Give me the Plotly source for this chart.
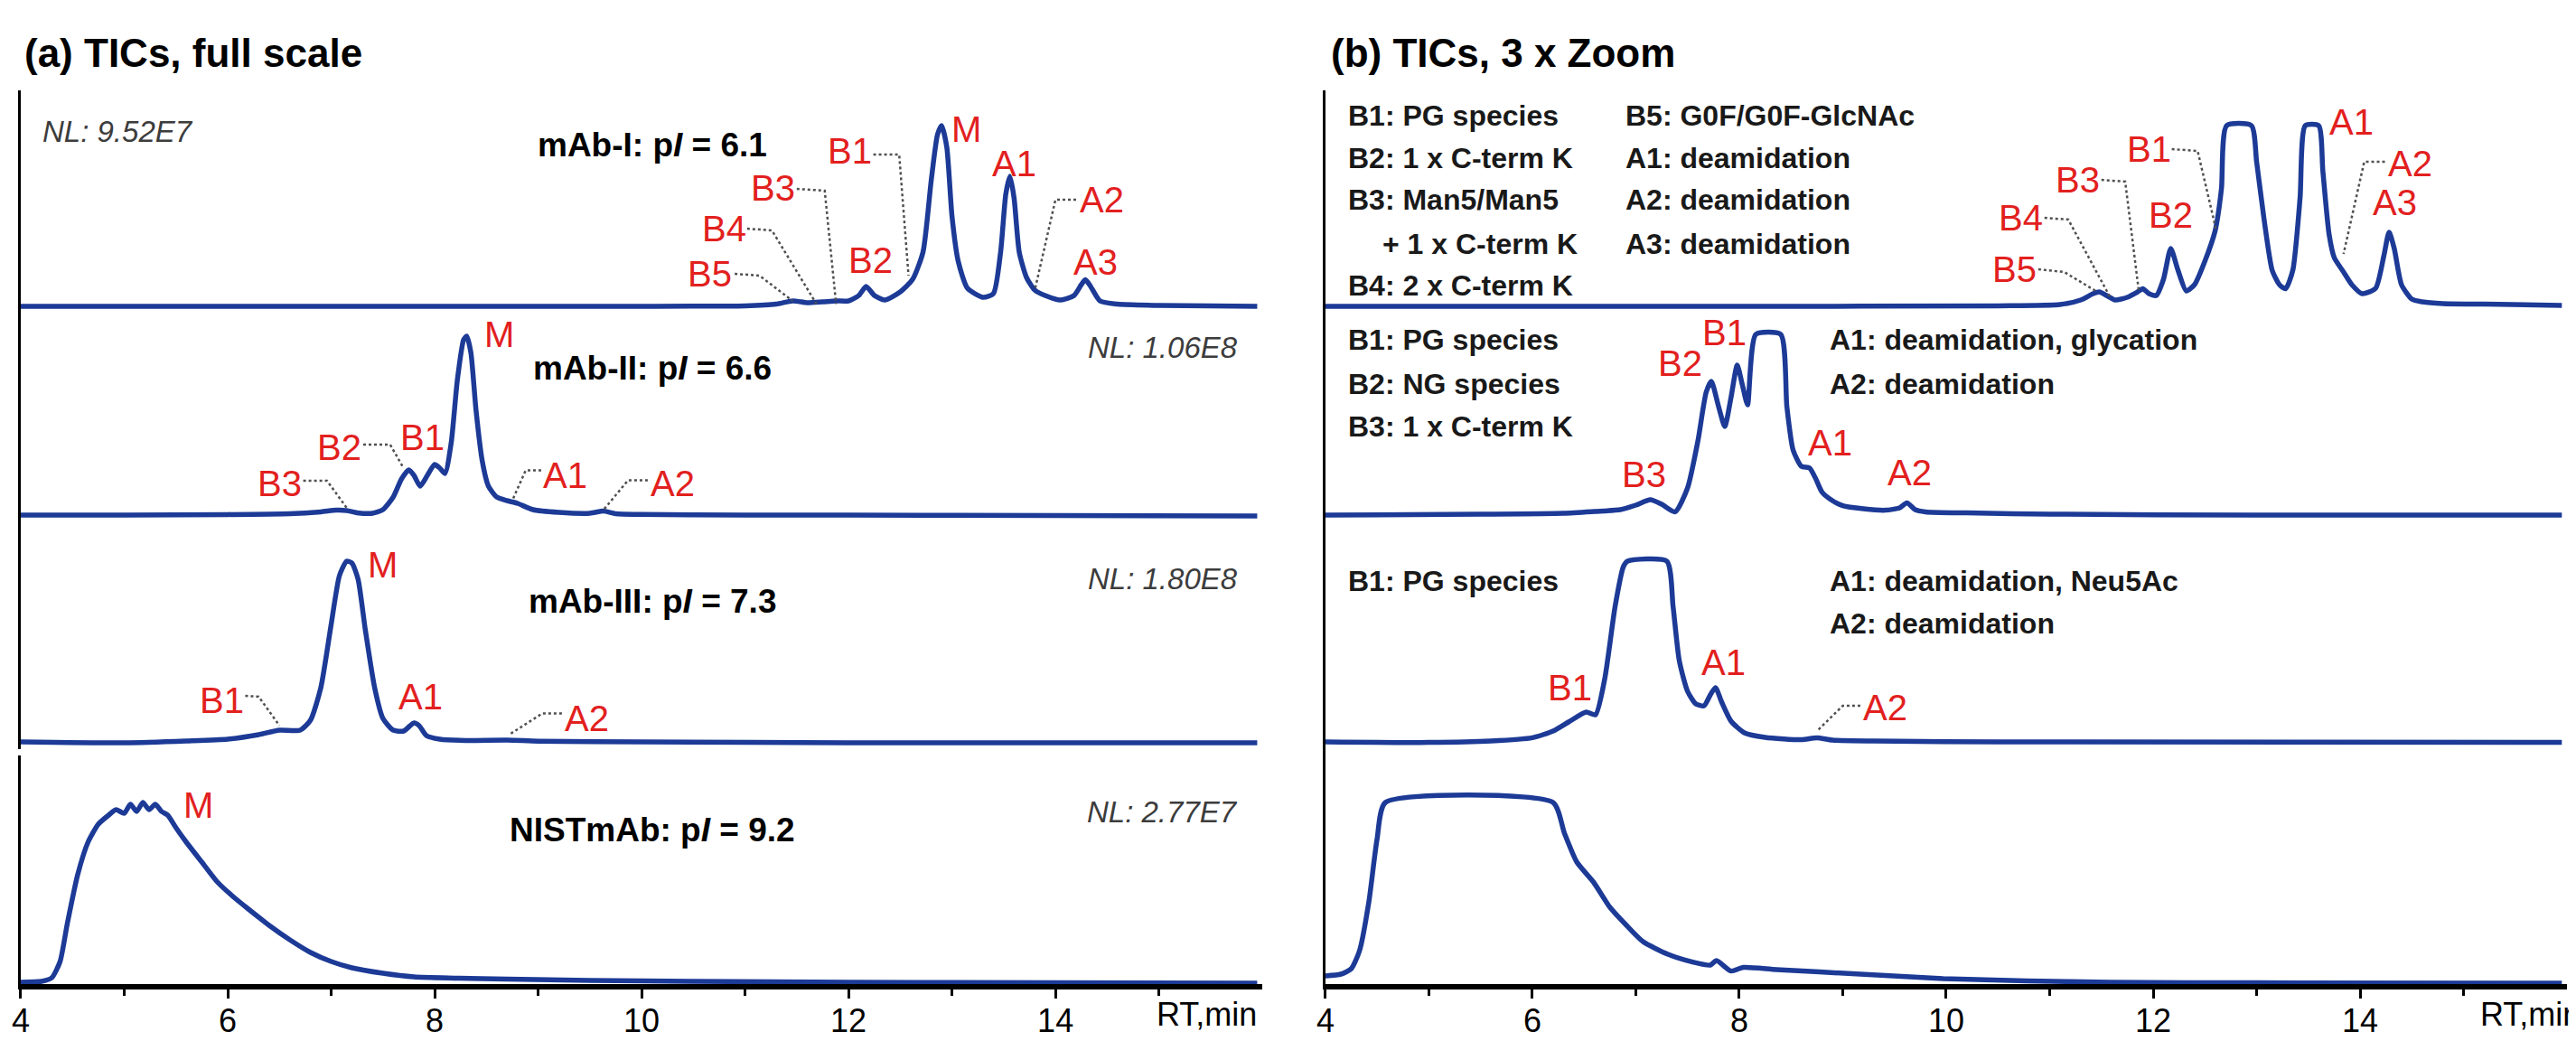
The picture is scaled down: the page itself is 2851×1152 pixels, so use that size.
import plotly.graph_objects as go

# ---------------- data ----------------
# retention time (min) and normalised intensity (1 = NL of that trace)
# (a) full scale
mab1_t = [4.0, 6.0, 8.0, 10.0, 11.0, 11.3, 11.46, 11.6, 11.75, 11.88, 12.0, 12.1, 12.17, 12.25, 12.35, 12.5,
          12.62, 12.72, 12.8, 12.86, 12.9, 12.95, 13.0, 13.06, 13.15, 13.3, 13.4, 13.47, 13.52, 13.56, 13.6,
          13.65, 13.72, 13.8, 13.9, 14.05, 14.18, 14.25, 14.29, 14.34, 14.43, 14.6, 15.0, 15.5, 15.95]
mab1_v = [0.0, 0.0, 0.0, 0.0, 0.003, 0.012, 0.03, 0.02, 0.025, 0.03, 0.03, 0.06, 0.11, 0.06, 0.035, 0.08,
          0.15, 0.3, 0.7, 0.95, 1.0, 0.88, 0.5, 0.25, 0.1, 0.05, 0.07, 0.3, 0.62, 0.72, 0.6,
          0.3, 0.16, 0.09, 0.06, 0.035, 0.06, 0.12, 0.147, 0.11, 0.03, 0.012, 0.005, 0.002, 0.0]

mab2_t = [4.0, 5.0, 6.0, 6.6, 6.9, 7.05, 7.15, 7.25, 7.4, 7.5, 7.6, 7.68, 7.75, 7.8, 7.86, 7.93, 8.0, 8.05,
          8.1, 8.16, 8.22, 8.28, 8.31, 8.35, 8.4, 8.46, 8.52, 8.6, 8.7, 8.8, 8.95, 9.2, 9.5, 9.63, 9.75,
          10.0, 11.0, 12.0, 14.0, 15.95]
mab2_v = [0.0, 0.0, 0.003, 0.008, 0.018, 0.027, 0.025, 0.013, 0.01, 0.03, 0.1, 0.2, 0.25, 0.22, 0.16, 0.22,
          0.28, 0.26, 0.23, 0.4, 0.75, 0.97, 0.99, 0.9, 0.58, 0.3, 0.16, 0.1, 0.08, 0.065, 0.03, 0.015,
          0.01, 0.022, 0.008, 0.004, 0.0, 0.0, -0.003, -0.005]

mab3_t = [4.0, 5.0, 5.6, 6.0, 6.3, 6.5, 6.7, 6.8, 6.9, 7.0, 7.08, 7.15, 7.2, 7.26, 7.33, 7.42, 7.5, 7.6,
          7.7, 7.8, 7.85, 7.92, 8.05, 8.3, 8.7, 9.0, 10.0, 12.0, 15.95]
mab3_v = [0.0, -0.005, 0.005, 0.015, 0.04, 0.065, 0.065, 0.12, 0.3, 0.65, 0.92, 1.0, 0.99, 0.9, 0.62, 0.3,
          0.13, 0.065, 0.06, 0.105, 0.09, 0.035, 0.015, 0.008, 0.01, 0.004, 0.0, -0.005, -0.005]

nist_t = [4.0, 4.2, 4.3, 4.38, 4.45, 4.55, 4.65, 4.75, 4.85, 4.92, 5.0, 5.06, 5.12, 5.18, 5.24, 5.3, 5.36,
          5.42, 5.5, 5.6, 5.75, 5.9, 6.05, 6.2, 6.4, 6.6, 6.8, 7.0, 7.2, 7.5, 7.8, 8.2, 8.7, 9.5, 10.5,
          12.0, 14.0, 15.95]
nist_v = [0.005, 0.01, 0.03, 0.12, 0.33, 0.6, 0.78, 0.88, 0.93, 0.96, 0.94, 0.99, 0.95, 1.0, 0.96, 0.99,
          0.95, 0.93, 0.86, 0.78, 0.67, 0.56, 0.48, 0.41, 0.32, 0.24, 0.17, 0.12, 0.085, 0.055, 0.035,
          0.028, 0.022, 0.015, 0.01, 0.005, 0.002, 0.0]

# (b) 3 x zoom (tops clipped at 1)
mab1z_t = [4.0, 8.0, 10.5, 11.1, 11.3, 11.42, 11.48, 11.55, 11.63, 11.75, 11.85, 11.9, 11.96, 12.03, 12.1,
           12.17, 12.24, 12.32, 12.4, 12.5, 12.6, 12.66, 12.71, 12.95, 13.0, 13.07, 13.15, 13.22, 13.28,
           13.35, 13.42, 13.47, 13.6, 13.64, 13.7, 13.75, 13.84, 13.92, 14.02, 14.15, 14.23, 14.28, 14.33,
           14.4, 14.5, 14.6, 14.8, 15.2, 15.95]
mab1z_v = [0.0, 0.0, 0.003, 0.01, 0.035, 0.07, 0.08, 0.06, 0.035, 0.05, 0.08, 0.097, 0.07, 0.06, 0.15,
           0.32, 0.2, 0.085, 0.12, 0.25, 0.42, 0.65, 1.0, 1.0, 0.8, 0.49, 0.2, 0.12, 0.097,
           0.2, 0.6, 1.0, 1.0, 0.75, 0.4, 0.27, 0.19, 0.12, 0.07, 0.1, 0.28, 0.41, 0.32,
           0.12, 0.04, 0.025, 0.015, 0.012, 0.005]

mab2z_t = [4.0, 5.5, 6.3, 6.6, 6.85, 7.0, 7.14, 7.25, 7.38, 7.5, 7.6, 7.68, 7.73, 7.8, 7.86, 7.92, 7.98,
           8.03, 8.08, 8.16, 8.4, 8.46, 8.52, 8.6, 8.68, 8.74, 8.8, 8.9, 9.0, 9.2, 9.41, 9.55, 9.62, 9.7,
           9.8, 10.2, 11.0, 13.0, 15.95]
mab2z_v = [0.0, 0.005, 0.01, 0.02, 0.03, 0.055, 0.085, 0.06, 0.018, 0.15, 0.41, 0.68, 0.74, 0.6, 0.49,
           0.65, 0.83, 0.72, 0.61, 1.0, 1.0, 0.6, 0.36, 0.27, 0.26, 0.2, 0.127, 0.08, 0.052, 0.035, 0.027,
           0.04, 0.068, 0.03, 0.018, 0.012, 0.005, 0.0, 0.0]

mab3z_t = [4.0, 5.0, 5.6, 6.0, 6.2, 6.35, 6.52, 6.61, 6.7, 6.8, 6.88, 6.92, 7.3, 7.36, 7.42, 7.5, 7.58,
           7.66, 7.72, 7.77, 7.83, 7.92, 8.05, 8.25, 8.6, 8.75, 8.9, 9.3, 10.5, 15.95]
mab3z_v = [0.0, -0.003, 0.005, 0.023, 0.06, 0.11, 0.165, 0.15, 0.35, 0.75, 0.97, 1.0, 1.0, 0.75, 0.45,
           0.28, 0.21, 0.2, 0.26, 0.3, 0.22, 0.115, 0.05, 0.025, 0.012, 0.023, 0.01, 0.005, 0.0, -0.003]

nistz_t = [4.0, 4.15, 4.25, 4.33, 4.42, 4.5, 4.58, 6.2, 6.31, 6.43, 6.59, 6.75, 6.91, 7.07, 7.31, 7.55,
           7.72, 7.78, 7.92, 8.04, 8.36, 9.17, 9.97, 10.78, 11.58, 13.0, 15.95]
nistz_v = [0.04, 0.05, 0.08, 0.18, 0.45, 0.8, 1.0, 1.0, 0.83, 0.67, 0.56, 0.42, 0.32, 0.23, 0.16, 0.117,
           0.1, 0.125, 0.067, 0.087, 0.075, 0.05, 0.025, 0.013, 0.005, 0.002, 0.0]

x_ticks = [4, 6, 8, 10, 12, 14]
x_minor = [5, 7, 9, 11, 13, 15]
x_title = "RT,min"

panel_titles = ["(a) TICs, full scale", "(b) TICs, 3 x Zoom"]
sample_names = ["mAb-I: p<i>I</i> = 6.1", "mAb-II: p<i>I</i> = 6.6", "mAb-III: p<i>I</i> = 7.3",
                "NISTmAb: p<i>I</i> = 9.2"]
nl_texts = ["NL: 9.52E7", "NL: 1.06E8", "NL: 1.80E8", "NL: 2.77E7"]

# peak labels: (row 0-3, text, t, v) for panel a / b
peak_labels_a = [
    (0, "B5", 10.66, 0.18), (0, "B4", 10.8, 0.43), (0, "B3", 11.27, 0.655), (0, "B2", 12.21, 0.255),
    (0, "B1", 12.01, 0.86), (0, "M", 13.14, 0.98), (0, "A1", 13.6, 0.79), (0, "A2", 14.45, 0.59),
    (0, "A3", 14.39, 0.247),
    (1, "M", 8.62, 1.0), (1, "B1", 7.88, 0.43), (1, "B2", 7.08, 0.377), (1, "B3", 6.5, 0.177),
    (1, "A1", 9.26, 0.218), (1, "A2", 10.3, 0.177),
    (2, "M", 7.5, 0.98), (2, "B1", 5.94, 0.23), (2, "A1", 7.86, 0.25), (2, "A2", 9.47, 0.13),
    (3, "M", 5.72, 0.985),
]
peak_labels_b = [
    (0, "B1", 11.96, 0.87), (0, "B3", 11.27, 0.70), (0, "B4", 10.72, 0.49), (0, "B5", 10.66, 0.205),
    (0, "B2", 12.17, 0.505), (0, "A1", 13.92, 1.02), (0, "A2", 14.48, 0.79), (0, "A3", 14.34, 0.575),
    (1, "B1", 7.86, 1.01), (1, "B2", 7.43, 0.84), (1, "B3", 7.08, 0.227), (1, "A1", 8.88, 0.40),
    (1, "A2", 9.65, 0.235),
    (2, "B1", 6.36, 0.30), (2, "A1", 7.85, 0.44), (2, "A2", 9.41, 0.19),
]
# dotted leader lines: (row, [t...], [v...])
leaders_a = [
    (0, [10.9, 11.14, 11.46], [0.18, 0.17, 0.03]),
    (0, [11.02, 11.26, 11.69], [0.43, 0.42, 0.013]),
    (0, [11.5, 11.77, 11.88], [0.65, 0.64, 0.013]),
    (0, [12.24, 12.49, 12.58], [0.84, 0.84, 0.17]),
    (0, [14.2, 14.0, 13.8], [0.59, 0.59, 0.088]),
    (1, [7.31, 7.57, 7.7], [0.39, 0.39, 0.26]),
    (1, [6.73, 6.96, 7.15], [0.19, 0.19, 0.04]),
    (1, [9.03, 8.88, 8.76], [0.247, 0.247, 0.093]),
    (1, [10.06, 9.87, 9.63], [0.193, 0.193, 0.027]),
    (2, [6.17, 6.3, 6.5], [0.255, 0.25, 0.09]),
    (2, [9.23, 9.04, 8.72], [0.157, 0.157, 0.04]),
]
leaders_b = [
    (0, [12.18, 12.43, 12.61], [0.87, 0.86, 0.42]),
    (0, [11.5, 11.73, 11.86], [0.70, 0.69, 0.09]),
    (0, [10.95, 11.18, 11.58], [0.49, 0.48, 0.055]),
    (0, [10.89, 11.14, 11.46], [0.205, 0.19, 0.08]),
    (0, [14.24, 14.04, 13.84], [0.80, 0.80, 0.29]),
    (2, [9.17, 9.0, 8.76], [0.2, 0.2, 0.065]),
]
# assignment legends in panel b: (row, text, t, v)
legend_texts = [
    (0, "B1: PG species", 4.2, 1.055), (0, "B2: 1 x C-term K", 4.2, 0.82),
    (0, "B3: Man5/Man5", 4.2, 0.59), (0, "+ 1 x C-term K", 4.53, 0.345),
    (0, "B4: 2 x C-term K", 4.2, 0.115),
    (0, "B5: G0F/G0F-GlcNAc", 6.88, 1.055), (0, "A1: deamidation", 6.88, 0.82),
    (0, "A2: deamidation", 6.88, 0.59), (0, "A3: deamidation", 6.88, 0.345),
    (1, "B1: PG species", 4.2, 0.97), (1, "B2: NG species", 4.2, 0.725),
    (1, "B3: 1 x C-term K", 4.2, 0.49),
    (1, "A1: deamidation, glycation", 8.86, 0.97), (1, "A2: deamidation", 8.86, 0.725),
    (2, "B1: PG species", 4.2, 0.89),
    (2, "A1: deamidation, Neu5Ac", 8.86, 0.89), (2, "A2: deamidation", 8.86, 0.655),
]

# ---------------- layout constants ----------------
W, H = 2851, 1152
# row edges in px from top (top, bottom) per row; panel a has a small break in its axis above row 4
ROW_SPANS = [
    [(92, 340), (340, 575), (575, 821), (828, 1081)],
    [(92, 340), (340, 575), (575, 825), (825, 1081)],
]
BASELINES = [331, 562, 813, 1080]           # px of intensity 0
UNIT = 200                                  # px per normalised unit
PANEL_X = [(5, 1384), (1454, 2833)]
X_RANGE = [4, 16]
BLUE = "rgb(28,58,150)"
RED = "rgb(226,32,30)"
FONT = "Liberation Sans, Arial, Helvetica, sans-serif"

fig = go.Figure()
series_a = [(mab1_t, mab1_v), (mab2_t, mab2_v), (mab3_t, mab3_v), (nist_t, nist_v)]
series_b = [(mab1z_t, mab1z_v), (mab2z_t, mab2z_v), (mab3z_t, mab3z_v), (nistz_t, nistz_v)]

layout = dict(width=W, height=H, margin=dict(l=0, r=0, t=0, b=0), paper_bgcolor="white",
              plot_bgcolor="rgba(0,0,0,0)", showlegend=False, font=dict(family=FONT, color="black"))
annotations = []
shapes = []


def yname(panel, row):
    return panel * 4 + row + 1


def yref(n):
    return "y" if n == 1 else "y%d" % n


for p in range(2):
    xa = "x" if p == 0 else "x2"
    x0, x1 = PANEL_X[p]
    layout["xaxis" if p == 0 else "xaxis2"] = dict(
        domain=[x0 / W, x1 / W], range=X_RANGE, anchor=yref(yname(p, 3)),
        showline=True, linecolor="black", linewidth=6, showgrid=False, zeroline=False,
        tickmode="array", tickvals=x_ticks, ticktext=[str(v) for v in x_ticks],
        ticks="outside", ticklen=10, tickwidth=3, tickcolor="black", ticklabelstandoff=-6,
        tickfont=dict(size=36, family=FONT, color="black"),
        minor=dict(tickmode="array", tickvals=x_minor, ticks="outside", ticklen=7, tickwidth=3,
                   tickcolor="black", showgrid=False),
    )
    series = series_a if p == 0 else series_b
    for r in range(4):
        n = yname(p, r)
        top, bot = ROW_SPANS[p][r]
        base = BASELINES[r]
        layout["yaxis" if n == 1 else "yaxis%d" % n] = dict(
            domain=[1 - bot / H, 1 - top / H], range=[(base - bot) / UNIT, (base - top) / UNIT],
            anchor=xa, showline=True, linecolor="black", linewidth=3, showticklabels=False,
            ticks="", showgrid=False, zeroline=False)
        t, v = series[r]
        fig.add_trace(go.Scatter(x=t, y=v, xaxis=xa, yaxis=yref(n), mode="lines",
                                 line=dict(color=BLUE, width=5.5, shape="spline", smoothing=0.6),
                                 hoverinfo="skip", cliponaxis=False))

    # panel title
    annotations.append(dict(text="<b>%s</b>" % panel_titles[p], xref="paper", yref="paper",
                            x=(x0 + 2) / W if p == 0 else (x0 + 4) / W, y=1 - 50 / H,
                            xanchor="left", yanchor="middle", showarrow=False,
                            font=dict(size=44, family=FONT, color="black")))
    # axis title
    annotations.append(dict(text=x_title, xref="paper", yref="paper",
                            x=(x1 - 4) / W if p == 0 else (W - 1) / W, y=1 - 1114 / H,
                            xanchor="right", yanchor="middle", showarrow=False,
                            font=dict(size=36, family=FONT, color="black")))

    labels = peak_labels_a if p == 0 else peak_labels_b
    for r, txt, t, v in labels:
        annotations.append(dict(text=txt, xref=xa, yref=yref(yname(p, r)), x=t, y=v,
                                xanchor="center", yanchor="middle", showarrow=False,
                                font=dict(size=40, family=FONT, color=RED)))
    leaders = leaders_a if p == 0 else leaders_b
    for r, lt, lv in leaders:
        path = "M " + " L ".join("%g,%g" % (a, b) for a, b in zip(lt, lv))
        shapes.append(dict(type="path", path=path, xref=xa, yref=yref(yname(p, r)),
                           line=dict(color="rgb(80,80,80)", width=2.5, dash="dot")))

# panel a: sample names and NL
name_v = [0.895, 0.81, 0.78, 0.85]
nl_pos = [(4.19, 0.97, "left"), (15.78, 0.925, "right"), (15.78, 0.905, "right"), (15.78, 0.95, "right")]
for r in range(4):
    ya = yref(yname(0, r))
    annotations.append(dict(text="<b>%s</b>" % sample_names[r], xref="x", yref=ya, x=10.1, y=name_v[r],
                            xanchor="center", yanchor="middle", showarrow=False,
                            font=dict(size=37, family=FONT, color="black")))
    t, v, anc = nl_pos[r]
    annotations.append(dict(text="<i>%s</i>" % nl_texts[r], xref="x", yref=ya, x=t, y=v,
                            xanchor=anc, yanchor="middle", showarrow=False,
                            font=dict(size=33, family=FONT, color="rgb(60,60,60)")))

# panel b: assignment texts
for r, txt, t, v in legend_texts:
    annotations.append(dict(text="<b>%s</b>" % txt, xref="x2", yref=yref(yname(1, r)), x=t, y=v,
                            xanchor="left", yanchor="middle", showarrow=False,
                            font=dict(size=32, family=FONT, color="rgb(25,25,25)")))

layout["annotations"] = annotations
layout["shapes"] = shapes
fig.update_layout(**layout)
fig.write_html("out.html")
